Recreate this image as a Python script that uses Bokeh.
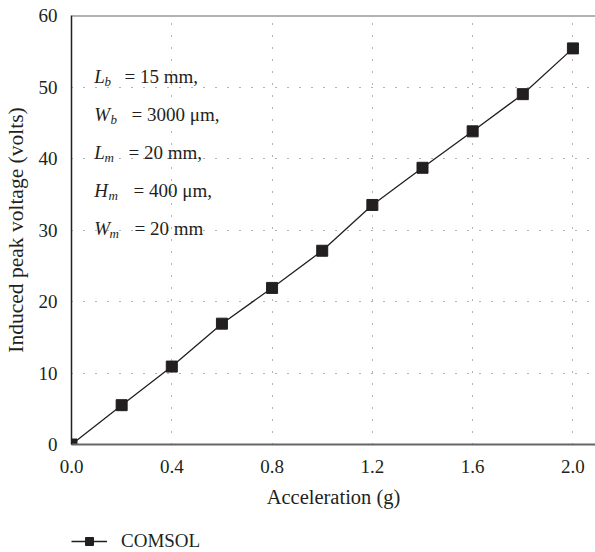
from bokeh.plotting import figure
from bokeh.layouts import column
from bokeh.models import Range1d, FixedTicker, PrintfTickFormatter, Span, Label, Legend, LegendItem
from bokeh.embed import file_html
from bokeh.resources import INLINE

accel = [0.0, 0.2, 0.4, 0.6, 0.8, 1.0, 1.2, 1.4, 1.6, 1.8, 2.0]
voltage = [0.0, 5.5, 10.9, 16.9, 21.9, 27.1, 33.5, 38.7, 43.8, 49.0, 55.4]
x_ticks = [0.0, 0.4, 0.8, 1.2, 1.6, 2.0]
y_ticks = [0, 10, 20, 30, 40, 50, 60]
series_name = "COMSOL"
x_label = "Acceleration (g)"
y_label = "Induced peak voltage (volts)"
params = [
    ("L", "b", "= 15 mm,"),
    ("W", "b", "= 3000 μm,"),
    ("L", "m", "= 20 mm,"),
    ("H", "m", "= 400 μm,"),
    ("W", "m", "= 20 mm"),
]

FONT = "Liberation Serif"
DARK = "#231f20"

p = figure(width=595, height=512, output_backend="svg", toolbar_location=None,
           x_range=Range1d(0, 2.09), y_range=Range1d(0, 60),
           min_border_left=70, min_border_right=0, min_border_top=15,
           min_border_bottom=68)
p.outline_line_color = None
p.background_fill_color = "white"
p.border_fill_color = "white"

line_style = dict(line_color=DARK, line_width=1.3)
marker_style = dict(marker="square", size=11, fill_color=DARK, line_color=DARK)
p.line(accel, voltage, **line_style)
p.scatter(accel, voltage, **marker_style)

# axes
p.xaxis.ticker = FixedTicker(ticks=x_ticks)
p.xaxis.formatter = PrintfTickFormatter(format="%.1f")
p.yaxis.ticker = FixedTicker(ticks=y_ticks)
for ax in (p.xaxis[0], p.yaxis[0]):
    ax.major_tick_line_color = None
    ax.minor_tick_line_color = None
    ax.major_label_text_font = FONT
    ax.major_label_text_font_size = "19px"
    ax.major_label_text_color = DARK
    ax.axis_label_text_font = FONT
    ax.axis_label_text_font_style = "normal"
    ax.axis_label_text_color = DARK
p.xaxis.axis_label_text_font_size = "20.5px"
p.yaxis.axis_label_text_font_size = "21.5px"
p.xaxis.axis_label = x_label
p.yaxis.axis_label = y_label
p.xaxis.axis_line_color = "#666666"
p.xaxis.axis_line_width = 2
p.yaxis.axis_line_color = DARK
p.yaxis.axis_line_width = 1.5
p.xaxis.major_label_standoff = 9
p.yaxis.major_label_standoff = 8
p.xaxis.axis_label_standoff = 10
p.yaxis.axis_label_standoff = 8

# grid
for g in (p.xgrid[0], p.ygrid[0]):
    g.grid_line_color = "#666666"
    g.grid_line_width = 1
    g.grid_line_dash = "1 11"

# top frame line
p.add_layout(Span(location=60, dimension="width", line_color="#666666", line_width=2))

# parameter annotations
base_y = [368.5, 330.5, 292.5, 254.5, 216.5]
sub_x = [33, 39, 33, 37, 38]
rest_x = [53, 60, 57, 62, 63]
for (letter, sub, rest), by, sx, rx in zip(params, base_y, sub_x, rest_x):
    p.add_layout(Label(x=22.7, y=by, x_units="screen", y_units="screen", text=letter,
                       text_font=FONT, text_font_style="italic", text_font_size="19px",
                       text_color=DARK, text_baseline="alphabetic"))
    p.add_layout(Label(x=sx, y=by - 5, x_units="screen", y_units="screen", text=sub,
                       text_font=FONT, text_font_style="italic", text_font_size="13px",
                       text_color=DARK, text_baseline="alphabetic"))
    p.add_layout(Label(x=rx, y=by, x_units="screen", y_units="screen", text=rest,
                       text_font=FONT, text_font_size="19px",
                       text_color=DARK, text_baseline="alphabetic"))

# legend strip below the chart (its series is kept outside the strip's visible range)
q = figure(width=595, height=40, output_backend="svg", toolbar_location=None,
           x_range=Range1d(-20, -19), y_range=Range1d(-20, -19),
           min_border=0, x_axis_type=None, y_axis_type=None)
q.outline_line_color = None
q.grid.visible = False
lr = q.line(accel, voltage, **line_style)
sr = q.scatter(accel, voltage, **marker_style)
legend = Legend(items=[LegendItem(label=series_name, renderers=[lr, sr])],
                location=(0, 0), orientation="horizontal",
                glyph_width=36, glyph_height=20, label_standoff=14,
                label_text_font=FONT, label_text_font_size="19px", label_text_color=DARK,
                border_line_color=None, background_fill_alpha=0,
                padding=0, margin=0, spacing=0)
q.add_layout(legend, "center")

layout = column(p, q, spacing=0)
open("out.html", "w").write(file_html(layout, INLINE))
